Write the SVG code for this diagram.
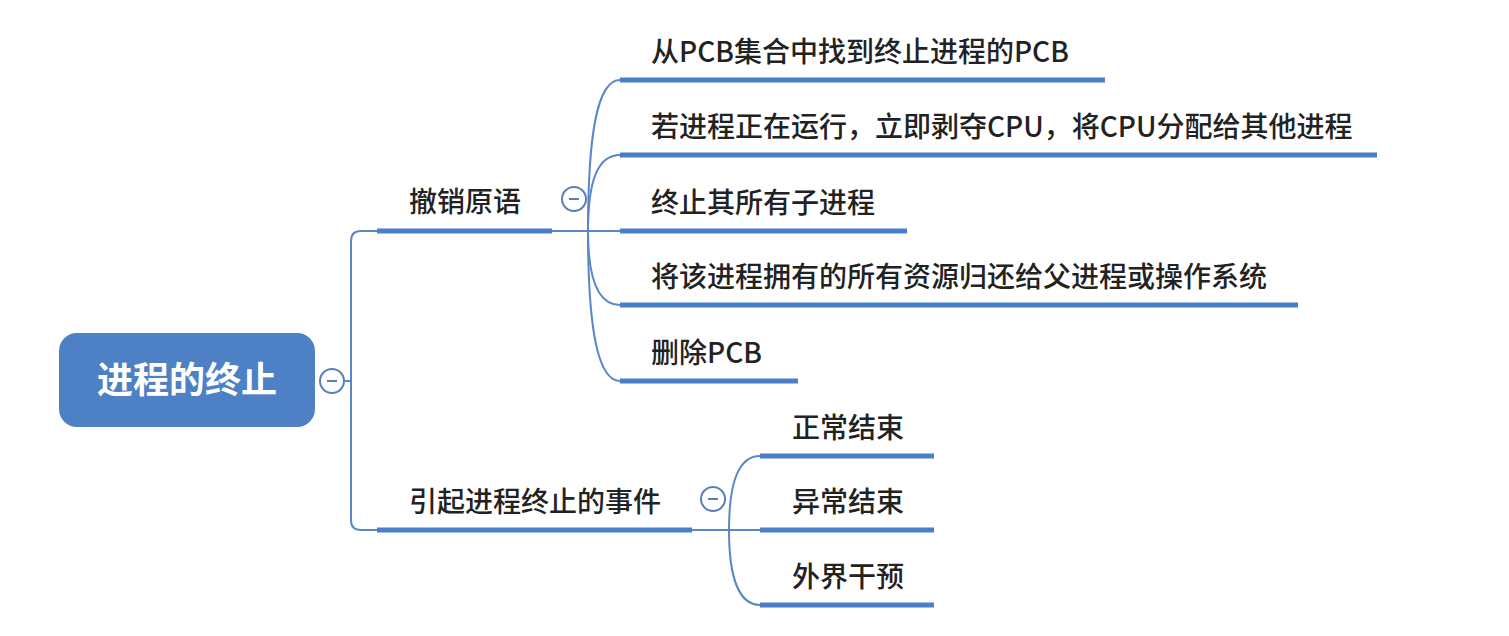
<svg xmlns="http://www.w3.org/2000/svg" width="1509" height="636" viewBox="0 0 1509 636">
<style>
.bar{stroke:#4a7fc5;stroke-width:5;fill:none}
.ln{stroke:#5a87c8;stroke-width:2;fill:none}
.t{font-family:"Noto Sans CJK SC","Noto Sans",sans-serif;font-size:28px;font-weight:500;fill:#222}
.btn{fill:#fff;stroke:#5a7fb8;stroke-width:2}
.minus{stroke:#5a7fb8;stroke-width:2}
</style>
<rect width="1509" height="636" fill="#fff"/>
<g id="connectors">
<path class="ln" d="M345,381 H351"/>
<path class="ln" d="M377,231 H361 Q351,231 351,241 V520 Q351,530 361,530 H377"/>
<path class="ln" d="M552,231 H620"/>
<path class="ln" d="M588,231 C588,130 598,80 620,80"/>
<path class="ln" d="M588,231 C588,180 598,155 620,155"/>
<path class="ln" d="M588,231 C588,280 598,305 620,305"/>
<path class="ln" d="M588,231 C588,330 598,381 620,381"/>
<path class="ln" d="M692,530 H760"/>
<path class="ln" d="M729,530 C729,480 740,456 760,456"/>
<path class="ln" d="M729,530 C729,580 740,605 760,605"/>
</g>
<g id="root">
<rect x="59" y="333" width="256" height="94" rx="18" fill="#4d80c4"/>
<text x="187" y="393" text-anchor="middle" font-family="Noto Sans CJK SC,sans-serif" font-size="36" font-weight="bold" fill="#fff">进程的终止</text>
<circle class="btn" cx="332" cy="381" r="12"/><path class="minus" d="M327,381 H337"/>
</g>
<g id="n-cxyy">
<path class="bar" d="M377,231 H552"/>
<text class="t" x="409" y="212">撤销原语</text>
<circle class="btn" cx="574" cy="199" r="12"/><path class="minus" d="M569,199 H579"/>
</g>
<g id="n-c1"><path class="bar" d="M620,80 H1105"/><text class="t" x="651" y="62">从PCB集合中找到终止进程的PCB</text></g>
<g id="n-c2"><path class="bar" d="M620,155 H1377"/><text class="t" x="651" y="137">若进程正在运行，立即剥夺CPU，将CPU分配给其他进程</text></g>
<g id="n-c3"><path class="bar" d="M620,231 H907"/><text class="t" x="651" y="213">终止其所有子进程</text></g>
<g id="n-c4"><path class="bar" d="M620,305 H1298"/><text class="t" x="651" y="287">将该进程拥有的所有资源归还给父进程或操作系统</text></g>
<g id="n-c5"><path class="bar" d="M620,381 H798"/><text class="t" x="651" y="363">删除PCB</text></g>
<g id="n-events">
<path class="bar" d="M377,530 H692"/>
<text class="t" x="409" y="512">引起进程终止的事件</text>
<circle class="btn" cx="713" cy="499" r="12"/><path class="minus" d="M708,499 H718"/>
</g>
<g id="n-e1"><path class="bar" d="M760,456 H934"/><text class="t" x="792" y="438">正常结束</text></g>
<g id="n-e2"><path class="bar" d="M760,530 H934"/><text class="t" x="792" y="512">异常结束</text></g>
<g id="n-e3"><path class="bar" d="M760,605 H934"/><text class="t" x="792" y="587">外界干预</text></g>
</svg>
